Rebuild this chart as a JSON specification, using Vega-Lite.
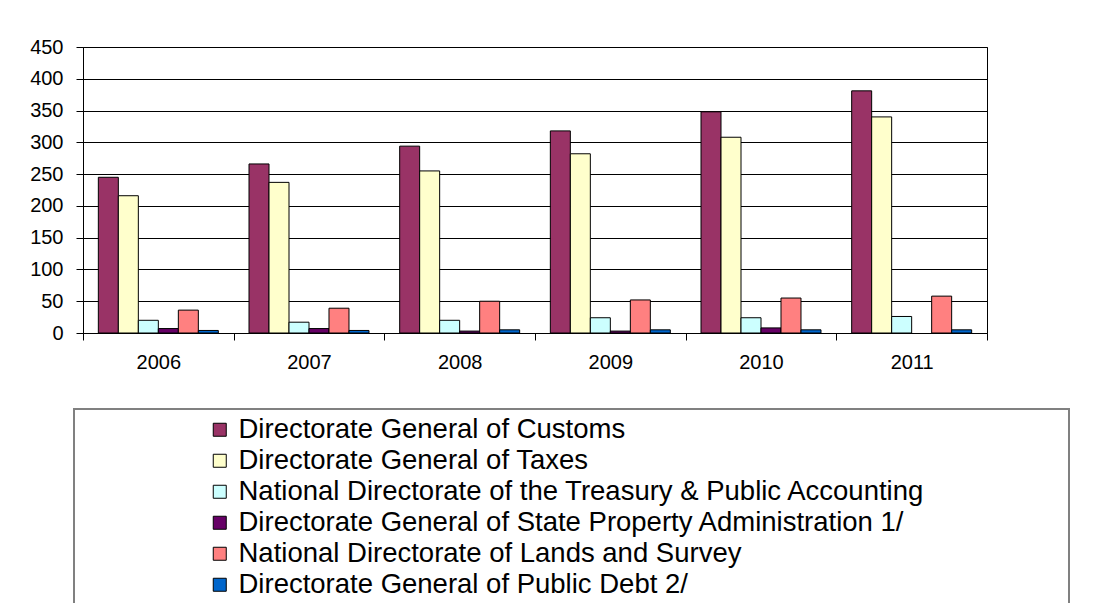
{
  "$schema": "https://vega.github.io/schema/vega-lite/v6.json",
  "width": 904,
  "height": 286,
  "autosize": {"type": "none"},
  "padding": {"left": 83, "top": 47, "right": 127, "bottom": 270},
  "background": "white",
  "data": {"values": [
    {"year": "2006", "agency": "Directorate General of Customs", "value": 245},
    {"year": "2006", "agency": "Directorate General of Taxes", "value": 216},
    {"year": "2006", "agency": "National Directorate of the Treasury & Public Accounting", "value": 20},
    {"year": "2006", "agency": "Directorate General of State Property Administration 1/", "value": 7},
    {"year": "2006", "agency": "National Directorate of Lands and Survey", "value": 36},
    {"year": "2006", "agency": "Directorate General of Public Debt 2/", "value": 4},
    {"year": "2007", "agency": "Directorate General of Customs", "value": 266},
    {"year": "2007", "agency": "Directorate General of Taxes", "value": 237},
    {"year": "2007", "agency": "National Directorate of the Treasury & Public Accounting", "value": 17},
    {"year": "2007", "agency": "Directorate General of State Property Administration 1/", "value": 7},
    {"year": "2007", "agency": "National Directorate of Lands and Survey", "value": 39},
    {"year": "2007", "agency": "Directorate General of Public Debt 2/", "value": 4},
    {"year": "2008", "agency": "Directorate General of Customs", "value": 294},
    {"year": "2008", "agency": "Directorate General of Taxes", "value": 255},
    {"year": "2008", "agency": "National Directorate of the Treasury & Public Accounting", "value": 20},
    {"year": "2008", "agency": "Directorate General of State Property Administration 1/", "value": 3},
    {"year": "2008", "agency": "National Directorate of Lands and Survey", "value": 50},
    {"year": "2008", "agency": "Directorate General of Public Debt 2/", "value": 5},
    {"year": "2009", "agency": "Directorate General of Customs", "value": 318},
    {"year": "2009", "agency": "Directorate General of Taxes", "value": 282},
    {"year": "2009", "agency": "National Directorate of the Treasury & Public Accounting", "value": 24},
    {"year": "2009", "agency": "Directorate General of State Property Administration 1/", "value": 3},
    {"year": "2009", "agency": "National Directorate of Lands and Survey", "value": 52},
    {"year": "2009", "agency": "Directorate General of Public Debt 2/", "value": 5},
    {"year": "2010", "agency": "Directorate General of Customs", "value": 348},
    {"year": "2010", "agency": "Directorate General of Taxes", "value": 308},
    {"year": "2010", "agency": "National Directorate of the Treasury & Public Accounting", "value": 24},
    {"year": "2010", "agency": "Directorate General of State Property Administration 1/", "value": 8},
    {"year": "2010", "agency": "National Directorate of Lands and Survey", "value": 55},
    {"year": "2010", "agency": "Directorate General of Public Debt 2/", "value": 5},
    {"year": "2011", "agency": "Directorate General of Customs", "value": 381},
    {"year": "2011", "agency": "Directorate General of Taxes", "value": 340},
    {"year": "2011", "agency": "National Directorate of the Treasury & Public Accounting", "value": 26},
    {"year": "2011", "agency": "National Directorate of Lands and Survey", "value": 58},
    {"year": "2011", "agency": "Directorate General of Public Debt 2/", "value": 5}
  ]},
  "mark": {"type": "bar", "stroke": "black", "strokeWidth": 1},
  "encoding": {
    "x": {
      "field": "year", "type": "nominal",
      "scale": {"paddingInner": 0, "paddingOuter": 0},
      "axis": {"title": null, "labelAngle": 0, "tickBand": "extent", "tickSize": 7, "labelPadding": 12, "domainColor": "black", "tickColor": "black", "grid": false}
    },
    "xOffset": {
      "field": "agency", "type": "nominal",
      "sort": ["Directorate General of Customs", "Directorate General of Taxes", "National Directorate of the Treasury & Public Accounting", "Directorate General of State Property Administration 1/", "National Directorate of Lands and Survey", "Directorate General of Public Debt 2/"],
      "scale": {"paddingInner": 0, "paddingOuter": 0.767}
    },
    "y": {
      "field": "value", "type": "quantitative",
      "scale": {"domain": [0, 450], "nice": false},
      "axis": {"title": null, "values": [0, 50, 100, 150, 200, 250, 300, 350, 400, 450], "tickSize": 7, "labelPadding": 13, "grid": true, "gridColor": "black", "gridOpacity": 1, "domainColor": "black", "tickColor": "black"}
    },
    "color": {
      "field": "agency", "type": "nominal",
      "scale": {
        "domain": ["Directorate General of Customs", "Directorate General of Taxes", "National Directorate of the Treasury & Public Accounting", "Directorate General of State Property Administration 1/", "National Directorate of Lands and Survey", "Directorate General of Public Debt 2/"],
        "range": ["#993366", "#FFFFCC", "#CCFFFF", "#660066", "#FF8080", "#0066CC"]
      },
      "legend": {
        "title": " ",
        "titleOrient": "right",
        "titlePadding": 137,
        "titleFontSize": 4,
        "orient": "none",
        "legendX": -9,
        "legendY": 362,
        "symbolType": "square",
        "symbolSize": 169,
        "symbolStrokeColor": "black",
        "symbolStrokeWidth": 1,
        "symbolOffset": 125,
        "labelFontSize": 27.5,
        "labelOffset": 5,
        "labelLimit": 1000,
        "rowPadding": 2,
        "padding": 7,
        "strokeColor": "#808080"
      }
    }
  },
  "config": {
    "font": "Liberation Sans",
    "view": {"stroke": "black", "strokeWidth": 1},
    "axis": {"labelFont": "Liberation Sans", "labelFontSize": 20, "labelColor": "black", "domainWidth": 1, "tickWidth": 1, "gridWidth": 1},
    "legend": {"labelFont": "Liberation Sans", "labelColor": "black", "strokeWidth": 2}
  }
}
